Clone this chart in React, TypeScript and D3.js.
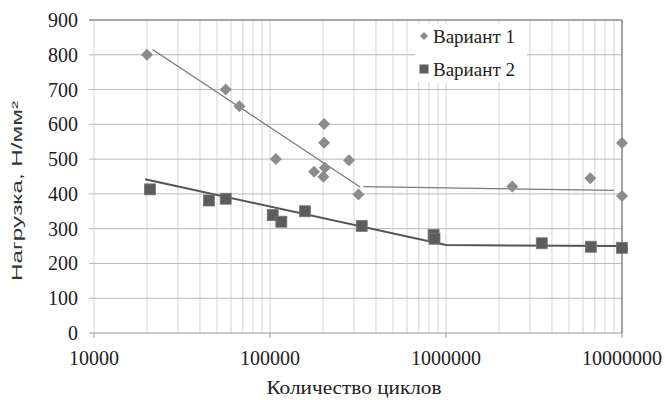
import React from 'react';
import * as d3 from 'd3';

// Вариант 1 (ромбы)
const v1Cycles = [20000, 56000, 67000, 108000, 178000, 201000, 205000, 203000, 203000, 281000, 318000, 2380000, 6600000, 10000000, 10000000];
const v1Load = [800, 700, 652, 500, 464, 449, 475, 547, 601, 497, 398, 421, 445, 546, 394];

// Вариант 2 (квадраты)
const v2Cycles = [20800, 45000, 56000, 103600, 116000, 158000, 332000, 850000, 860000, 3500000, 6650000, 10000000];
const v2Load = [413, 381, 386, 339, 320, 350, 308, 282, 271, 258, 248, 245];

// линии тренда (точки излома)
const t1aCycles = [21500, 325000];
const t1aLoad = [815, 420];
const t1bCycles = [340000, 9000000];
const t1bLoad = [421, 410];
const t2Cycles = [19500, 1000000, 10000000];
const t2Load = [442, 253, 250];

const yTicks = [0, 100, 200, 300, 400, 500, 600, 700, 800, 900];
const xTickLabels = [10000, 100000, 1000000, 10000000];
const legendLabels = ['Вариант 1', 'Вариант 2'];

const W = 665;
const H = 400;
const left = 94;
const right = 622;
const top = 20;
const bottom = 333;

const serif = "'Liberation Serif', 'Times New Roman', Times, 'DejaVu Serif', serif";

export default function App() {
  const x = d3.scaleLog().domain([1e4, 1e7]).range([left, right]);
  const y = d3.scaleLinear().domain([0, 900]).range([bottom, top]);
  const minor = x.ticks();

  const line = d3
    .line<[number, number]>()
    .x((d) => x(d[0]))
    .y((d) => y(d[1]));

  const zip = (a: number[], b: number[]) => a.map((v, i) => [v, b[i]] as [number, number]);

  const diamond = (cx: number, cy: number, r: number) =>
    `M${cx},${cy - r}L${cx + r},${cy}L${cx},${cy + r}L${cx - r},${cy}Z`;

  return (
    <svg
      width={W}
      height={H}
      style={{ position: 'absolute', left: 0, top: 0, background: '#fff', fontFamily: serif }}
    >
      <rect x={0} y={0} width={W} height={H} fill="#fff" />

      {/* вертикальная сетка */}
      {minor.map((t, i) => (
        <line
          key={'vx' + i}
          x1={x(t)}
          x2={x(t)}
          y1={top}
          y2={bottom}
          stroke="#d4d4d4"
          strokeWidth={1}
        />
      ))}
      {/* горизонтальная сетка */}
      {yTicks.map((t) => (
        <line
          key={'hy' + t}
          x1={left - 5}
          x2={right}
          y1={y(t)}
          y2={y(t)}
          stroke={t === 900 ? '#8a8a8a' : t === 0 ? '#9a9a9a' : '#b8b8b8'}
          strokeWidth={t === 900 ? 1.5 : 1}
        />
      ))}
      {/* рамка справа */}
      <line x1={right} x2={right} y1={top} y2={bottom} stroke="#8a8a8a" strokeWidth={1.5} />
      {/* деления оси X */}
      {xTickLabels.map((t) => (
        <line key={'xt' + t} x1={x(t)} x2={x(t)} y1={bottom} y2={bottom + 5} stroke="#9a9a9a" />
      ))}

      {/* подписи оси Y */}
      {yTicks.map((t) => (
        <text
          key={'yl' + t}
          x={78}
          y={y(t)}
          dy="0.35em"
          textAnchor="end"
          fontSize={20}
          fill="#222"
        >
          {t}
        </text>
      ))}
      {/* подписи оси X */}
      {xTickLabels.map((t) => (
        <text
          key={'xl' + t}
          x={x(t)}
          y={365}
          textAnchor="middle"
          fontSize={20}
          fill="#222"
        >
          {t}
        </text>
      ))}

      {/* названия осей */}
      <text
        transform="translate(22,191) rotate(-90)"
        textAnchor="middle"
        style={{ fontFamily: "'Liberation Sans', Arial, sans-serif" }}
        fontSize={14}
        textLength={180}
        lengthAdjust="spacingAndGlyphs"
        fill="#333"
      >
        Нагрузка, Н/мм²
      </text>
      <text
        x={354}
        y={394}
        textAnchor="middle"
        fontSize={19}
        textLength={175}
        lengthAdjust="spacingAndGlyphs"
        fill="#222"
      >
        Количество циклов
      </text>

      {/* линии тренда */}
      <path d={line(zip(t1aCycles, t1aLoad)) || ''} fill="none" stroke="#7a7a7a" strokeWidth={1.3} />
      <path d={line(zip(t1bCycles, t1bLoad)) || ''} fill="none" stroke="#7a7a7a" strokeWidth={1.3} />
      <path d={line(zip(t2Cycles, t2Load)) || ''} fill="none" stroke="#555" strokeWidth={2} />

      {/* Вариант 1 */}
      {v1Cycles.map((c, i) => (
        <path key={'d' + i} d={diamond(x(c), y(v1Load[i]), 6)} fill="#8c8c8c" />
      ))}
      {/* Вариант 2 */}
      {v2Cycles.map((c, i) => (
        <rect
          key={'s' + i}
          x={x(c) - 5.5}
          y={y(v2Load[i]) - 5.5}
          width={11}
          height={11}
          fill="#5c5c5c"
          stroke="#777"
          strokeWidth={0.8}
        />
      ))}

      {/* легенда */}
      <rect x={415} y={24} width={112} height={58} fill="#fff" />
      <path d={diamond(424, 36, 4)} fill="#8c8c8c" />
      <rect x={419.5} y={64.5} width={9} height={9} fill="#5c5c5c" />
      {legendLabels.map((l, i) => (
        <text key={l} x={433} y={43 + i * 33} fontSize={19} fill="#222">
          {l}
        </text>
      ))}
    </svg>
  );
}
